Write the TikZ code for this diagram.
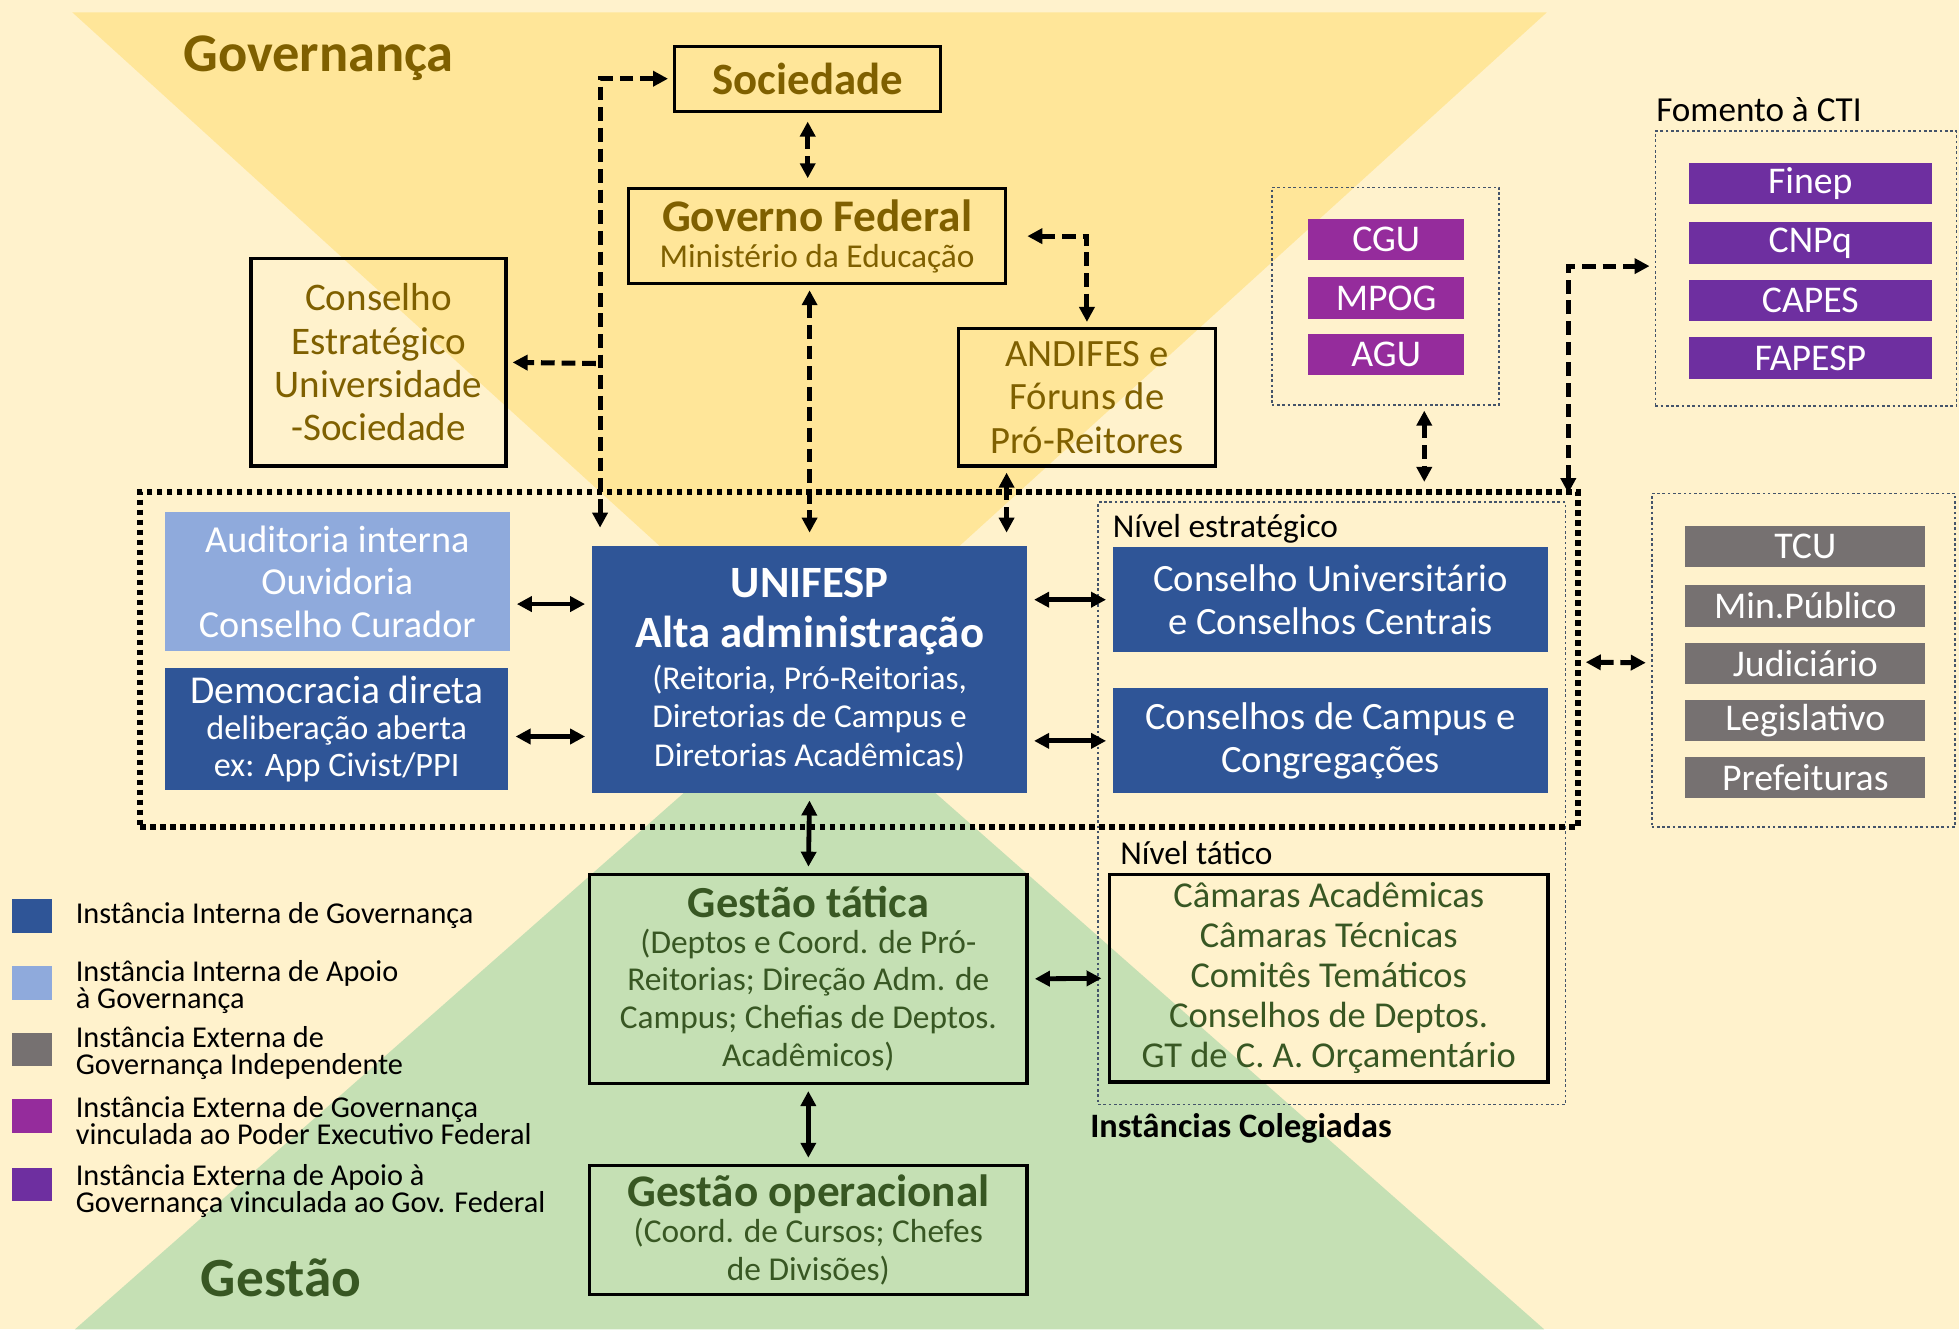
\documentclass[tikz,border=0pt]{standalone}
\usepackage{fontspec}
\setmainfont{Carlito}
\usetikzlibrary{arrows.meta,positioning}
\definecolor{cream}{HTML}{FFF2CC}
\definecolor{govyel}{HTML}{FFE699}
\definecolor{gestgrn}{HTML}{C5E0B4}
\definecolor{goldtxt}{HTML}{7F6000}
\definecolor{grntxt}{HTML}{385723}
\definecolor{darkblue}{HTML}{2F5597}
\definecolor{lightblue}{HTML}{8FAADC}
\definecolor{greybox}{HTML}{767171}
\definecolor{magenta}{HTML}{952C9C}
\definecolor{purple}{HTML}{6E2FA0}
\definecolor{dotline}{HTML}{44546A}
\newcommand\setfs[2]{\fontsize{#1}{#2}\selectfont}
\tikzset{
  outbox/.style={draw=black,line width=0.75pt,align=center,inner sep=0pt},
  goldbox/.style={outbox,text=goldtxt},
  grnbox/.style={outbox,text=grntxt},
  fillbox/.style={fill=#1,text=white,align=center,inner sep=0pt},
  smallbox/.style={fillbox=#1,minimum height=3.3mm,font=\setfs{8.6}{10}},
  thindot/.style={draw=dotline,line width=0.4pt,dash pattern=on 0.6pt off 0.6pt,inner sep=0pt},
  dasharr/.style={line width=1.15pt,dash pattern=on 1.1mm off 0.55mm,shorten <=0.4mm,shorten >=0.4mm},
  solidarr/.style={line width=1.1pt,<->,shorten <=0.5mm,shorten >=0.5mm},
  legsq/.style={minimum width=3.2mm,minimum height=2.7mm,inner sep=0pt},
  legtxt/.style={anchor=west,align=left,inner sep=0pt,font=\setfs{6.9}{6.1}}
}
\begin{document}
\begin{tikzpicture}[x=0.1mm,y=-0.1mm,>={Triangle[length=1.2mm,width=1.2mm]}]
\useasboundingbox (0,0) rectangle (1568,1064);
% background and the two triangles
\fill[cream] (0,0) rectangle (1568,1064);
\fill[govyel] (58,10) -- (1238,10) -- (648,546) -- cycle;
\fill[gestgrn] (60,1064) -- (1236,1064) -- (648,546) -- cycle;
\node[font=\setfs{12.4}{14}\bfseries,text=goldtxt] (govtitle) at (255,47) {Governança};
\node[font=\setfs{12.6}{14}\bfseries,text=grntxt] (gesttitle) at (225,1023) {Gestão};

% external top boxes
\node[goldbox,minimum width=21.3mm,minimum height=5.2mm,font=\setfs{10.2}{12}\bfseries] (soc) at (646.5,63) {Sociedade};
\node[goldbox,minimum width=30.2mm,minimum height=7.6mm,font=\setfs{7.6}{9.2}] (gov) at (654,189)
  {{\setfs{10.3}{12}\bfseries Governo Federal}\\[-1pt]Ministério da Educação};
\node[goldbox,minimum width=20.4mm,minimum height=16.6mm,font=\setfs{8.9}{9.9}] (cons) at (303,290)
  {Conselho\\Estratégico\\Universidade\\-Sociedade};
\node[goldbox,minimum width=20.6mm,minimum height=11mm,font=\setfs{8.8}{9.9}] (andifes) at (870,318)
  {ANDIFES e\\Fóruns de\\Pró-Reitores};

% CGU group
\node[thindot,minimum width=18.2mm,minimum height=17.4mm] (cgubox) at (1109,237) {};
\node[smallbox=magenta,minimum width=12.5mm] (cgu) at (1109.5,192) {CGU};
\node[smallbox=magenta,minimum width=12.5mm] (mpog) at (1109.5,238.5) {MPOG};
\node[smallbox=magenta,minimum width=12.5mm] (agu) at (1109.5,284) {AGU};

% Fomento group
\node[font=\setfs{8}{10},anchor=west,inner sep=0pt] (fomlbl) at (1325,88) {Fomento à CTI};
\node[thindot,minimum width=24.1mm,minimum height=22mm] (fom) at (1445.5,215) {};
\node[smallbox=purple,minimum width=19.4mm] (finep) at (1449,147) {Finep};
\node[smallbox=purple,minimum width=19.4mm] (cnpq) at (1449,194.5) {CNPq};
\node[smallbox=purple,minimum width=19.4mm] (capes) at (1449,240.5) {CAPES};
\node[smallbox=purple,minimum width=19.4mm] (fapesp) at (1449,286.5) {FAPESP};

% governance zone
\node[draw=black,line width=1.3pt,dash pattern=on 0.45mm off 0.35mm,minimum width=115.1mm,minimum height=26.8mm,inner sep=0pt] (govzone) at (687.5,528) {};
\node[fillbox=lightblue,minimum width=27.6mm,minimum height=11.1mm,font=\setfs{8.7}{9.7}] (aud) at (270,465.5)
  {Auditoria interna\\Ouvidoria\\Conselho Curador};
\node[fillbox=darkblue,minimum width=27.5mm,minimum height=9.7mm,font=\setfs{7.8}{8.4}] (dem) at (269.5,583.5)
  {{\setfs{9}{10}Democracia direta}\\deliberação aberta\\ex: App Civist/PPI};
\node[fillbox=darkblue,minimum width=34.8mm,minimum height=19.8mm,font=\setfs{7.6}{8.8}] (unif) at (648,536)
  {{\setfs{10.2}{12}\bfseries UNIFESP}\\[2.6pt]{\setfs{10.2}{12}\bfseries Alta administração}\\[0.6pt](Reitoria, Pró-Reitorias,\\Diretorias de Campus e\\Diretorias Acadêmicas)};

% collegiate bodies
\node[thindot,minimum width=37.4mm,minimum height=48.2mm] (coleg) at (1066,643) {};
\node[anchor=west,inner sep=0pt,font=\setfs{7.6}{9}] (nivest) at (890,423) {Nível estratégico};
\node[fillbox=darkblue,minimum width=34.8mm,minimum height=8.4mm,font=\setfs{8.8}{9.7}] (consu) at (1065,480)
  {Conselho Universitário\\e Conselhos Centrais};
\node[fillbox=darkblue,minimum width=34.8mm,minimum height=8.4mm,font=\setfs{8.8}{9.7}] (campus) at (1065,593)
  {Conselhos de Campus e\\Congregações};
\node[anchor=west,inner sep=0pt,font=\setfs{7.6}{9}] (nivtat) at (896,683) {Nível tático};
\node[grnbox,minimum width=35.1mm,minimum height=16.6mm,font=\setfs{8.3}{9.1}] (camaras) at (1063.5,783)
  {Câmaras Acadêmicas\\Câmaras Técnicas\\Comitês Temáticos\\Conselhos de Deptos.\\GT de C. A. Orçamentário};
\node[anchor=west,inner sep=0pt,font=\setfs{7.8}{9}\bfseries] (colegl) at (872,903) {Instâncias Colegiadas};

% external control
\node[thindot,minimum width=24.3mm,minimum height=26.7mm] (ext) at (1443.5,528.5) {};
\node[smallbox=greybox,minimum width=19.2mm] (tcu) at (1445,437.5) {TCU};
\node[smallbox=greybox,minimum width=19.2mm] (minpub) at (1445,485) {Min.Público};
\node[smallbox=greybox,minimum width=19.2mm] (jud) at (1445,531) {Judiciário};
\node[smallbox=greybox,minimum width=19.2mm] (leg) at (1445,576.5) {Legislativo};
\node[smallbox=greybox,minimum width=19.2mm] (pref) at (1445,622.5) {Prefeituras};

% management
\node[grnbox,minimum width=35mm,minimum height=16.7mm,font=\setfs{7.6}{8.6}] (tatica) at (647,783.5)
  {{\setfs{10.1}{12}\bfseries Gestão tática}\\[-0.6pt](Deptos e Coord. de Pró-\\Reitorias; Direção Adm. de\\Campus; Chefias de Deptos.\\Acadêmicos)};
\node[grnbox,minimum width=35mm,minimum height=10.3mm,font=\setfs{7.6}{8.8}] (oper) at (647,984.5)
  {{\setfs{10.3}{12}\bfseries Gestão operacional}\\[-0.6pt](Coord. de Cursos; Chefes\\de Divisões)};

% legend
\foreach \y/\c [count=\i] in {733/darkblue,787/lightblue,840/greybox,893/magenta,948/purple}
  \node[legsq,fill=\c] (leg\i) at (26,\y) {};
\node[legtxt] (legt1) at (60,733) {Instância Interna de Governança};
\node[legtxt] (legt2) at (60,790) {Instância Interna de Apoio\\à Governança};
\node[legtxt] (legt3) at (60,843) {Instância Externa de\\Governança Independente};
\node[legtxt] (legt4) at (60,897) {Instância Externa de Governança\\vinculada ao Poder Executivo Federal};
\node[legtxt] (legt5) at (60,953) {Instância Externa de Apoio à\\Governança vinculada ao Gov. Federal};

% dashed links
\coordinate (trunk) at (481,291);
\draw[dasharr,<->] (soc.west) -| ([xshift=0.7mm,yshift=1mm]unif.north west);
\draw[dasharr,->] (trunk) -- (cons.east);
\draw[dasharr,<->] ([yshift=-0.3mm]soc.south) -- ([yshift=0.3mm]soc.south |- gov.north);
\draw[dasharr,<->] (gov.south -| unif.north) -- ([yshift=0.6mm]unif.north);
\draw[dasharr,<->] ([xshift=1.2mm]gov.east) -| (andifes.north);
\draw[dasharr,<->] ([xshift=4mm]andifes.south west) -- ([xshift=4mm,yshift=0.6mm]andifes.south west |- unif.north);
\draw[dasharr,<->] ([xshift=3.1mm]cgubox.south) -- ([xshift=3.1mm,yshift=0.2mm]cgubox.south |- govzone.north);
\draw[dasharr,<->] ([xshift=-1mm,yshift=-0.7mm]govzone.north east) |- ([yshift=0.2mm]fom.west);
\draw[dasharr,<->] ([yshift=-0.2mm]govzone.east) -- ([yshift=-0.2mm]ext.west);

% solid links
\draw[solidarr] ([yshift=-1.8mm]aud.east) -- ([yshift=-1.8mm]aud.east -| unif.west);
\draw[solidarr] ([yshift=-0.6mm]dem.east) -- ([yshift=-0.6mm]dem.east -| unif.west);
\draw[solidarr] (unif.east |- consu.west) -- (consu.west);
\draw[solidarr] (unif.east |- campus.west) -- (campus.west);
\draw[solidarr] (unif.south) -- (tatica.north);
\draw[solidarr] (tatica.east) -- (camaras.west);
\draw[solidarr] (tatica.south) -- (oper.north);
\end{tikzpicture}
\end{document}
